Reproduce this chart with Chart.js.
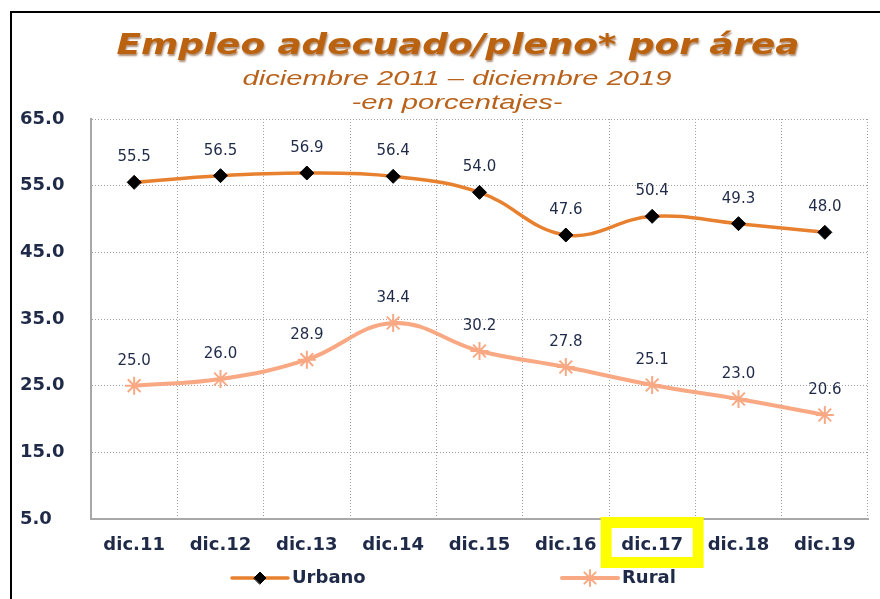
<!DOCTYPE html>
<html>
<head>
<meta charset="utf-8">
<script src="https://cdn.jsdelivr.net/npm/chart.js@4/dist/chart.umd.min.js"></script>
<style>
  html, body { margin: 0; padding: 0; background: #fff; }
  #wrap { width: 880px; height: 599px; position: relative; }
</style>
</head>
<body>
<div id="wrap"><canvas id="grafico"></canvas></div>
<script>
// === Datos ===
var categorias = ['dic.11', 'dic.12', 'dic.13', 'dic.14', 'dic.15', 'dic.16', 'dic.17', 'dic.18', 'dic.19'];
var urbano = [55.5, 56.5, 56.9, 56.4, 54.0, 47.6, 50.4, 49.3, 48.0];
var rural = [25.0, 26.0, 28.9, 34.4, 30.2, 27.8, 25.1, 23.0, 20.6];
var yMin = 5, yMax = 65, yPaso = 10;
var titulo = 'Empleo adecuado/pleno* por área';
var subtitulos = ['diciembre 2011 – diciembre 2019', '-en porcentajes-'];
var resaltado = 'dic.17';

// === Colores ===
var C_URBANO = '#E8812F';
var C_RURAL = '#F8A984';
var C_TEXTO = '#1F2A48';
var C_GRID = '#a0a0a0';
var C_EJE = '#a8a8a8';
var C_TITULO = '#BA620F';

// texto estirado a un ancho dado (el original está ensanchado)
function textoAncho(ctx, txt, font, cx, y, ancho, color, sombra) {
  ctx.save();
  ctx.font = font;
  var w = ctx.measureText(txt).width;
  ctx.translate(cx, y);
  ctx.scale(ancho / w, 1);
  ctx.textAlign = 'center';
  ctx.textBaseline = 'alphabetic';
  if (sombra) {
    ctx.shadowColor = 'rgba(110,50,0,0.55)';
    ctx.shadowOffsetX = 1;
    ctx.shadowOffsetY = 1.5;
    ctx.shadowBlur = 2;
  }
  ctx.fillStyle = color;
  ctx.fillText(txt, 0, 0);
  ctx.restore();
}

var fondo = {
  id: 'fondo',
  beforeDraw: function (chart) {
    var ctx = chart.ctx;
    ctx.save();
    ctx.fillStyle = '#fff';
    ctx.fillRect(0, 0, chart.width, chart.height);
    ctx.restore();
  }
};

var etiquetas = {
  id: 'etiquetas',
  afterDatasetsDraw: function (chart) {
    var ctx = chart.ctx;
    ctx.save();
    ctx.font = '15px "DejaVu Sans"';
    ctx.fillStyle = C_TEXTO;
    ctx.textAlign = 'center';
    ctx.textBaseline = 'middle';
    chart.data.datasets.forEach(function (ds, i) {
      chart.getDatasetMeta(i).data.forEach(function (pt, j) {
        ctx.fillText(ds.data[j].toFixed(1), pt.x, pt.y - 25);
      });
    });
    ctx.restore();
  }
};

var extras = {
  id: 'extras',
  afterDraw: function (chart) {
    var ctx = chart.ctx;
    var x = chart.scales.x;

    // titulos
    textoAncho(ctx, titulo, 'italic bold 28px "DejaVu Sans"', 458, 54, 683, C_TITULO, true);
    textoAncho(ctx, subtitulos[0], 'italic 20px "Liberation Sans"', 457, 85, 429, '#B9621C', false);
    textoAncho(ctx, subtitulos[1], 'italic 20px "Liberation Sans"', 457, 109, 211, '#B9621C', false);

    // marco
    ctx.save();
    ctx.strokeStyle = '#000';
    ctx.lineWidth = 2;
    ctx.beginPath();
    ctx.moveTo(880, 12);
    ctx.lineTo(11, 12);
    ctx.lineTo(11, 599);
    ctx.stroke();
    ctx.restore();

    // recuadro amarillo
    var cx = x.getPixelForValue(categorias.indexOf(resaltado));
    ctx.save();
    ctx.strokeStyle = '#FFFF00';
    ctx.lineWidth = 11;
    ctx.strokeRect(cx - 46, 522.5, 92, 40);
    ctx.restore();

    // leyenda
    var items = [
      { ds: chart.data.datasets[0], x0: 232 },
      { ds: chart.data.datasets[1], x0: 562 }
    ];
    var yl = 578;
    items.forEach(function (it) {
      var ds = it.ds;
      ctx.save();
      ctx.strokeStyle = ds.borderColor;
      ctx.lineWidth = ds.borderWidth;
      ctx.lineCap = 'round';
      ctx.beginPath();
      ctx.moveTo(it.x0, yl);
      ctx.lineTo(it.x0 + 56, yl);
      ctx.stroke();
      ctx.fillStyle = ds.pointBackgroundColor;
      ctx.strokeStyle = ds.pointBorderColor;
      ctx.lineWidth = ds.pointBorderWidth;
      Chart.helpers.drawPoint(ctx, {
        pointStyle: ds.pointStyle,
        radius: ds.pointRadius - 1,
        rotation: 0,
        borderWidth: ds.pointBorderWidth
      }, it.x0 + 28, yl);
      ctx.font = 'bold 18px "DejaVu Sans"';
      ctx.fillStyle = C_TEXTO;
      ctx.textAlign = 'left';
      ctx.textBaseline = 'middle';
      ctx.fillText(ds.label, it.x0 + 60, yl);
      ctx.restore();
    });
  }
};

var config = {
  type: 'line',
  data: {
    labels: categorias,
    datasets: [{
      label: 'Urbano',
      data: urbano,
      borderColor: C_URBANO,
      backgroundColor: C_URBANO,
      borderWidth: 3.5,
      tension: 0.4,
      pointStyle: 'rectRot',
      pointRadius: 7,
      pointBackgroundColor: '#000',
      pointBorderColor: '#000',
      pointBorderWidth: 1
    }, {
      label: 'Rural',
      data: rural,
      borderColor: C_RURAL,
      backgroundColor: C_RURAL,
      borderWidth: 4,
      tension: 0.4,
      pointStyle: 'star',
      pointRadius: 9,
      pointBackgroundColor: C_RURAL,
      pointBorderColor: C_RURAL,
      pointBorderWidth: 2
    }]
  },
  options: {
    responsive: true,
    maintainAspectRatio: false,
    animation: false,
    layout: { padding: { left: 20, right: 12, top: 119, bottom: 40 } },
    scales: {
      x: {
        offset: true,
        grid: { offset: true, color: C_GRID, lineWidth: 1, drawTicks: false },
        border: { display: true, color: C_EJE, width: 2, dash: [1, 2] },
        ticks: {
          color: C_TEXTO,
          padding: 16,
          font: { family: 'DejaVu Sans', weight: 'bold', size: 18 }
        },
        afterFit: function (s) { s.height = 40; }
      },
      y: {
        min: yMin,
        max: yMax,
        grid: { color: C_GRID, lineWidth: 1, drawTicks: false },
        border: { display: true, color: C_EJE, width: 2, dash: [1, 2] },
        ticks: {
          stepSize: yPaso,
          color: C_TEXTO,
          crossAlign: 'far',
          font: { family: 'DejaVu Sans', weight: 'bold', size: 18 },
          callback: function (v) { return Number(v).toFixed(1); }
        },
        afterFit: function (s) { s.width = 71; }
      }
    },
    plugins: {
      legend: { display: false },
      title: { display: false },
      tooltip: { enabled: false }
    }
  },
  plugins: [fondo, etiquetas, extras]
};

new Chart(document.getElementById('grafico'), config);
</script>
</body>
</html>
